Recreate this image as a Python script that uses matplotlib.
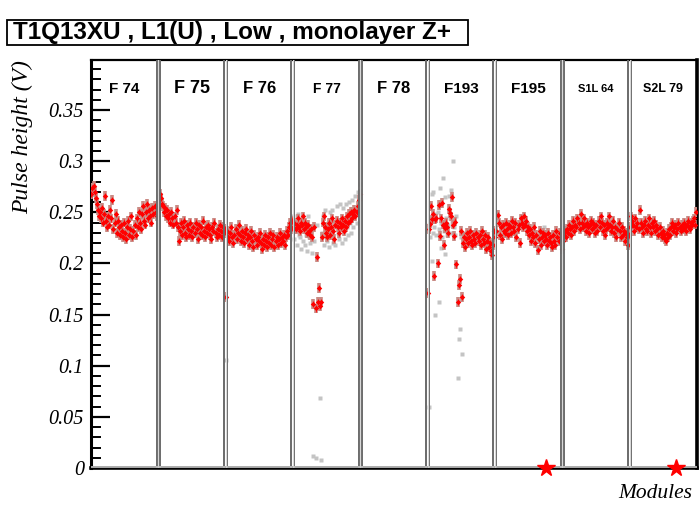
import numpy as np
import matplotlib
matplotlib.use("Agg")
import matplotlib.pyplot as plt
from matplotlib.patches import Rectangle
from matplotlib.ticker import MultipleLocator

# modules along the x axis, 64 channels each
modules = ["F 74", "F 75", "F 76", "F 77", "F 78", "F193", "F195", "S1L 64", "S2L 79"]
label_sizes = [11, 13, 12, 10, 12, 11, 11, 8, 9]
n_ch = 64

# mean pulse height per channel (V); F 78 has no data
f74 = [0.268, 0.274, 0.276, 0.270, 0.264, 0.258, 0.252, 0.246, 0.250, 0.244, 0.254, 0.240, 0.248, 0.266, 0.242, 0.236,
       0.246, 0.238, 0.252, 0.244, 0.262, 0.234, 0.240, 0.248, 0.230, 0.242, 0.236, 0.228, 0.238, 0.232, 0.226, 0.240,
       0.230, 0.224, 0.236, 0.242, 0.228, 0.234, 0.246, 0.226, 0.232, 0.238, 0.228, 0.244, 0.236, 0.250, 0.240, 0.234,
       0.248, 0.256, 0.242, 0.238, 0.250, 0.258, 0.244, 0.252, 0.246, 0.240, 0.254, 0.248, 0.256, 0.250, 0.246, 0.254]
f75 = [0.262, 0.268, 0.264, 0.258, 0.256, 0.250, 0.254, 0.246, 0.252, 0.244, 0.248, 0.240, 0.250, 0.244, 0.238, 0.246,
       0.240, 0.252, 0.236, 0.222, 0.232, 0.240, 0.228, 0.236, 0.242, 0.230, 0.226, 0.238, 0.234, 0.228, 0.240, 0.232,
       0.226, 0.236, 0.230, 0.240, 0.234, 0.224, 0.238, 0.230, 0.236, 0.228, 0.242, 0.232, 0.226, 0.236, 0.230, 0.238,
       0.234, 0.228, 0.224, 0.236, 0.232, 0.240, 0.230, 0.226, 0.234, 0.228, 0.238, 0.232, 0.226, 0.236, 0.230, 0.234]
f76 = [0.167, 0.232, 0.226, 0.222, 0.230, 0.236, 0.226, 0.220, 0.228, 0.234, 0.224, 0.230, 0.238, 0.228, 0.222, 0.232,
       0.226, 0.220, 0.230, 0.234, 0.224, 0.228, 0.218, 0.226, 0.232, 0.222, 0.216, 0.228, 0.224, 0.218, 0.226, 0.222,
       0.230, 0.220, 0.214, 0.224, 0.218, 0.228, 0.222, 0.216, 0.226, 0.220, 0.230, 0.218, 0.224, 0.228, 0.216, 0.222,
       0.226, 0.218, 0.224, 0.230, 0.220, 0.226, 0.222, 0.228, 0.218, 0.226, 0.232, 0.228, 0.236, 0.240, 0.234, 0.242]
f77 = [0.236, 0.240, 0.234, 0.238, 0.244, 0.236, 0.232, 0.240, 0.238, 0.246, 0.234, 0.240, 0.236, 0.230, 0.238, 0.232,
       0.228, 0.234, 0.226, 0.160, 0.236, 0.156, 0.206, 0.162, 0.176, 0.158, 0.162, 0.226, 0.240, 0.246, 0.236, 0.230,
       0.226, 0.234, 0.240, 0.228, 0.236, 0.244, 0.232, 0.224, 0.238, 0.242, 0.236, 0.230, 0.240, 0.236, 0.244, 0.238,
       0.232, 0.242, 0.236, 0.246, 0.240, 0.248, 0.242, 0.250, 0.244, 0.248, 0.252, 0.246, 0.250, 0.256, 0.262, 0.268]
f78 = []
f193 = [0.171, 0.234, 0.239, 0.256, 0.243, 0.248, 0.188, 0.243, 0.244, 0.200, 0.257, 0.227, 0.244, 0.259, 0.238, 0.218,
        0.235, 0.240, 0.236, 0.230, 0.253, 0.249, 0.246, 0.265, 0.238, 0.227, 0.241, 0.199, 0.162, 0.179, 0.185, 0.232,
        0.167, 0.220, 0.226, 0.216, 0.224, 0.230, 0.220, 0.226, 0.232, 0.222, 0.218, 0.228, 0.224, 0.220, 0.230, 0.226,
        0.222, 0.228, 0.218, 0.232, 0.224, 0.220, 0.228, 0.214, 0.222, 0.226, 0.216, 0.220, 0.212, 0.208, 0.218, 0.232]
f195 = [0.226, 0.232, 0.247, 0.240, 0.228, 0.236, 0.224, 0.238, 0.232, 0.230, 0.240, 0.234, 0.228, 0.238, 0.236, 0.230,
        0.242, 0.236, 0.232, 0.240, 0.226, 0.234, 0.238, 0.220, 0.244, 0.240, 0.236, 0.246, 0.238, 0.242, 0.232, 0.236,
        0.228, 0.234, 0.222, 0.230, 0.226, 0.236, 0.220, 0.228, 0.213, 0.224, 0.232, 0.218, 0.226, 0.230, 0.222, 0.228,
        0.224, 0.218, 0.230, 0.222, 0.226, 0.220, 0.216, 0.228, 0.222, 0.218, 0.232, 0.226, 0.222, 0.230, 0.226, 0.214]
s1l64 = [0.222, 0.228, 0.232, 0.226, 0.234, 0.230, 0.238, 0.234, 0.228, 0.236, 0.242, 0.232, 0.238, 0.236, 0.244, 0.240,
         0.234, 0.248, 0.240, 0.236, 0.244, 0.238, 0.232, 0.240, 0.236, 0.230, 0.238, 0.242, 0.234, 0.240, 0.236, 0.230,
         0.238, 0.232, 0.242, 0.236, 0.246, 0.240, 0.232, 0.238, 0.228, 0.234, 0.240, 0.236, 0.246, 0.238, 0.232, 0.236,
         0.242, 0.230, 0.236, 0.226, 0.234, 0.240, 0.232, 0.226, 0.236, 0.228, 0.232, 0.222, 0.230, 0.226, 0.218, 0.228]
s2l79 = [0.236, 0.246, 0.242, 0.238, 0.232, 0.244, 0.236, 0.240, 0.234, 0.252, 0.240, 0.236, 0.230, 0.238, 0.242, 0.234,
         0.232, 0.238, 0.244, 0.236, 0.230, 0.240, 0.236, 0.242, 0.232, 0.238, 0.234, 0.228, 0.236, 0.230, 0.226, 0.232,
         0.228, 0.224, 0.222, 0.230, 0.226, 0.234, 0.228, 0.236, 0.240, 0.232, 0.236, 0.238, 0.230, 0.234, 0.240, 0.236,
         0.232, 0.238, 0.234, 0.240, 0.236, 0.232, 0.238, 0.242, 0.236, 0.234, 0.240, 0.238, 0.242, 0.244, 0.238, 0.250]
means = [f74, f75, f76, f77, f78, f193, f195, s1l64, s2l79]
mean_err = 0.003

# individual measurements (channel, value) shown in grey
grey_f76 = [(0, 0.106)]
grey_f77 = [(0, 0.246), (1, 0.224), (2, 0.232), (3, 0.218), (4, 0.248), (5, 0.228), (6, 0.226), (7, 0.214),
            (8, 0.244), (9, 0.222), (10, 0.236), (11, 0.218), (12, 0.228), (13, 0.212), (14, 0.246), (15, 0.226),
            (16, 0.220), (18, 0.210), (19, 0.012), (20, 0.222), (21, 0.010), (22, 0.238), (25, 0.068), (26, 0.008),
            (27, 0.230), (28, 0.246), (29, 0.218), (30, 0.252), (31, 0.226), (32, 0.222), (33, 0.240), (34, 0.216),
            (35, 0.250), (36, 0.226), (37, 0.252), (38, 0.220), (39, 0.236), (40, 0.218), (41, 0.256), (42, 0.230),
            (43, 0.224), (44, 0.258), (45, 0.236), (46, 0.220), (47, 0.254), (48, 0.232), (49, 0.224), (50, 0.258),
            (51, 0.236), (52, 0.228), (53, 0.260), (54, 0.240), (55, 0.230), (56, 0.262), (57, 0.236), (58, 0.244),
            (59, 0.266), (60, 0.240), (61, 0.270), (62, 0.252), (63, 0.278)]
grey_f193 = [(1, 0.060), (0, 0.232), (1, 0.238), (2, 0.226), (3, 0.244), (4, 0.268), (4, 0.202), (5, 0.270),
             (5, 0.230), (6, 0.236), (7, 0.150), (7, 0.248), (8, 0.228), (9, 0.250), (10, 0.162), (10, 0.234),
             (11, 0.274), (12, 0.215), (12, 0.240), (13, 0.226), (14, 0.284), (15, 0.232), (16, 0.265), (16, 0.209),
             (17, 0.244), (18, 0.228), (19, 0.238), (20, 0.266), (21, 0.230), (22, 0.272), (23, 0.242), (24, 0.300),
             (25, 0.236), (26, 0.228), (27, 0.246), (28, 0.088), (29, 0.126), (30, 0.136), (31, 0.226), (32, 0.111),
             (33, 0.230)]
grey_f195 = [(46, 0.236)]
grey_points = {"F 76": grey_f76, "F 77": grey_f77, "F193": grey_f193, "F195": grey_f195}

# flagged channels
star_modules = ["F195", "S2L 79"]
star_channels = [48, 44]

serif = "Liberation Serif"
sans = "Liberation Sans"

fig = plt.figure(figsize=(6.99, 5.05), dpi=100)
ax = fig.add_axes([0.130, 0.0733, 0.867, 0.808])

total = n_ch * len(modules)
ax.set_xlim(0, total)
ax.set_ylim(0, 0.399)

# grey individual points
for name, pts in grey_points.items():
    m = modules.index(name)
    gx = [m * n_ch + c + 0.5 for c, _ in pts]
    gy = [v for _, v in pts]
    ax.plot(gx, gy, ls="none", marker="s", ms=2.2, color="#c4c4c4", mec="none", zorder=2)

# channel means with error bars
for m, vals in enumerate(means):
    if not vals:
        continue
    x = m * n_ch + np.arange(len(vals)) + 0.5
    ax.errorbar(x, vals, yerr=mean_err * 1.6, fmt="none", ecolor="#c98a84", elinewidth=2.6, capsize=0, zorder=3)
    ax.errorbar(x, vals, yerr=mean_err, fmt="none", ecolor="#ff2020", elinewidth=0.8, capsize=0, zorder=4)
    ax.plot(x, vals, ls="none", marker="D", ms=2.8, color="#ff0000", mec="none", zorder=5)

# double separators between modules
for m in range(1, len(modules)):
    b = m * n_ch
    for off in (-1.5, 1.5):
        ax.axvline(b + off, color="#6a6a6a", lw=1.4, zorder=6)
    ax.axvline(b, color="#d8d8d8", lw=0.8, zorder=6)

ax.axhline(0.0012, color="#c8c8c8", lw=1.2, zorder=6)

# module names
for m, (name, fs) in enumerate(zip(modules, label_sizes)):
    ax.text(m * n_ch + n_ch / 2, 0.371, name, ha="center", va="center",
            fontsize=fs, fontweight="bold", family=sans, zorder=7)

# flagged channels drawn on the axis
for name, ch in zip(star_modules, star_channels):
    m = modules.index(name)
    ax.plot(m * n_ch + ch + 0.5, 0, ls="none", marker="*", ms=13, color="#ff0000",
            mec="#ff0000", zorder=8, clip_on=False)

# axes styling
for side, lw in (("left", 2.2), ("bottom", 2.6), ("right", 2.6), ("top", 1.6)):
    ax.spines[side].set_linewidth(lw)
    ax.spines[side].set_color("black")
ax.set_xticks([])
ax.yaxis.set_major_locator(MultipleLocator(0.05))
ax.yaxis.set_minor_locator(MultipleLocator(0.01))
ax.tick_params(axis="y", which="major", direction="in", length=14, width=1.6, pad=5)
ax.tick_params(axis="y", which="minor", direction="in", length=7, width=1.4)
ax.set_yticks([0, 0.05, 0.1, 0.15, 0.2, 0.25, 0.3, 0.35])
ax.set_yticklabels(["0", "0.05", "0.1", "0.15", "0.2", "0.25", "0.3", "0.35"],
                   fontsize=14.5, family=serif, style="italic")

ax.set_ylabel("Pulse height (V)", fontsize=17, family=serif, style="italic", ha="right")
ax.yaxis.set_label_coords(-0.095, 1.0)
fig.text(0.991, 0.013, "Modules", ha="right", va="baseline", fontsize=15.5, family=serif, style="italic")

# title in a framed box
fig.patches.append(Rectangle((0.010, 0.911), 0.660, 0.050, transform=fig.transFigure,
                             fc="white", ec="black", lw=1.3))
fig.text(0.019, 0.936, "T1Q13XU , L1(U) , Low , monolayer Z+", ha="left", va="center",
         fontsize=17.5, fontweight="bold", family=sans)

fig.savefig("out.png", dpi=100)
